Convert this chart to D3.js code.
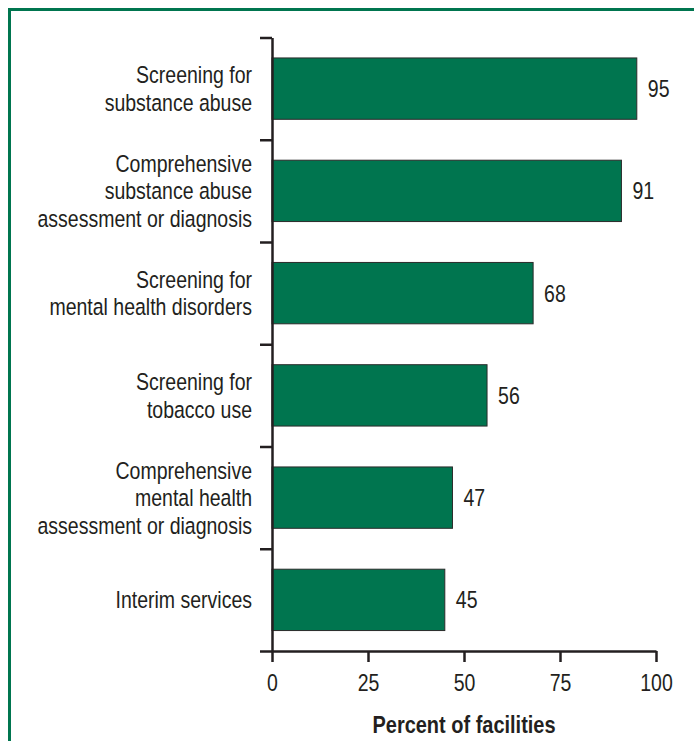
<!DOCTYPE html>
<html>
<head>
<meta charset="utf-8">
<script src="https://cdn.jsdelivr.net/npm/d3@7/dist/d3.min.js"></script>
<style>
  html, body { margin: 0; padding: 0; background: #fff; }
  svg { display: block; }
  text { font-family: "Liberation Sans Narrow", "Arial Narrow", "Liberation Sans", sans-serif; fill: #231f20; }
</style>
</head>
<body>
<svg id="chart" width="694" height="741"></svg>
<script>
// Services offered by facilities (percent)
const categories = [
  ["Screening for", "substance abuse"],
  ["Comprehensive", "substance abuse", "assessment or diagnosis"],
  ["Screening for", "mental health disorders"],
  ["Screening for", "tobacco use"],
  ["Comprehensive", "mental health", "assessment or diagnosis"],
  ["Interim services"]
];
const values = [95, 91, 68, 56, 47, 45];
const xTicks = [0, 25, 50, 75, 100];
const xTitle = "Percent of facilities";

const green = "#00754f";
const ink = "#231f20";
const fontSize = 23.5;
const fontStack = "'Liberation Sans Narrow', 'Arial Narrow', 'Liberation Sans', sans-serif";
// horizontal squeeze giving the condensed face look
const narrow = 0.83;

const svg = d3.select("#chart");

// green frame (top and left edges)
svg.append("path")
  .attr("d", "M9.5,760 L9.5,9.5 L720,9.5")
  .attr("fill", "none")
  .attr("stroke", green)
  .attr("stroke-width", 3);

const plotLeft = 272, plotRight = 656, plotTop = 37.5, plotBottom = 651;

const x = d3.scaleLinear().domain([0, 100]).range([plotLeft, plotRight]);
const ids = d3.range(values.length);
const y = d3.scaleBand().domain(ids).range([plotTop, plotBottom])
  .paddingInner(0.4).paddingOuter(0.2);
// row boundaries for the category axis ticks
const rows = d3.scaleLinear().domain([0, values.length]).range([plotTop, plotBottom]);

// bars
svg.append("g").selectAll("rect")
  .data(ids)
  .join("rect")
  .attr("x", x(0))
  .attr("y", i => y(i))
  .attr("width", i => x(values[i]) - x(0))
  .attr("height", y.bandwidth())
  .attr("fill", green)
  .attr("stroke", "#2b2b2b")
  .attr("stroke-width", 1);

// value labels
svg.append("g").selectAll("text")
  .data(ids)
  .join("text")
  .attr("transform", i => `translate(${x(values[i]) + 11},${y(i) + y.bandwidth() / 2}) scale(${narrow},1)`)
  .attr("dy", "0.36em")
  .attr("font-size", fontSize)
  .text(i => values[i]);

// category axis
const yAxis = svg.append("g")
  .attr("transform", `translate(${plotLeft},0)`)
  .call(d3.axisLeft(rows).tickValues(d3.range(values.length + 1))
    .tickSize(12).tickSizeOuter(0).tickFormat(""));
yAxis.selectAll("path, line").attr("stroke", ink).attr("stroke-width", 2.5);

// category labels
const lineH = 27.5;
svg.append("g").selectAll("text")
  .data(ids)
  .join("text")
  .attr("text-anchor", "end")
  .attr("font-size", fontSize)
  .attr("transform", i => `translate(252,${y(i) + y.bandwidth() / 2}) scale(${narrow},1)`)
  .each(function(i) {
    const lines = categories[i];
    const t = d3.select(this);
    lines.forEach((s, k) => {
      t.append("tspan")
        .attr("x", 0)
        .attr("y", (k - (lines.length - 1) / 2) * lineH)
        .attr("dy", "0.36em")
        .text(s);
    });
  });

// value axis
const xAxis = svg.append("g")
  .attr("transform", `translate(0,${plotBottom})`)
  .call(d3.axisBottom(x).tickValues(xTicks).tickSize(11).tickSizeOuter(0).tickPadding(12));
xAxis.selectAll("path, line").attr("stroke", ink).attr("stroke-width", 2.5);
xAxis.selectAll("text")
  .attr("font-size", fontSize)
  .attr("fill", ink)
  .attr("transform", `scale(${narrow},1)`)
  .style("font-family", fontStack);

// axis title
svg.append("text")
  .attr("transform", `translate(${x(50)},733) scale(0.85,1)`)
  .attr("text-anchor", "middle")
  .attr("font-size", fontSize)
  .attr("font-weight", "bold")
  .text(xTitle);
</script>
</body>
</html>
